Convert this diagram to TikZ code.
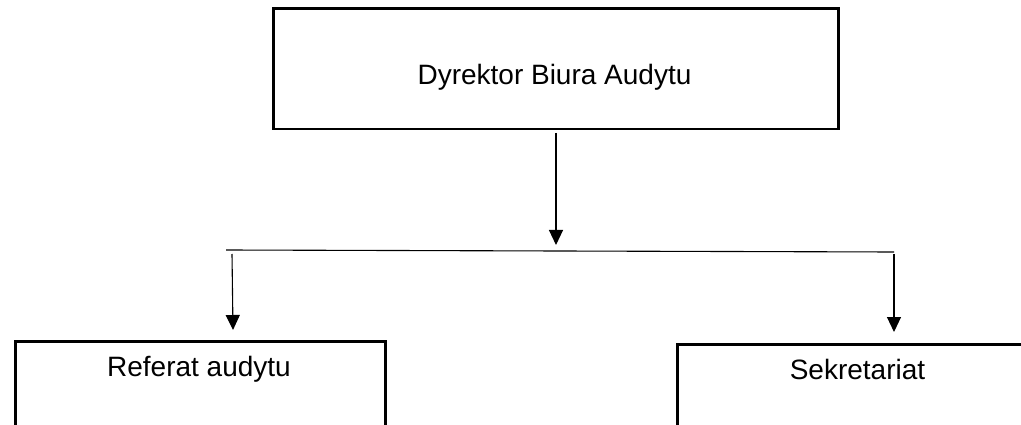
\documentclass[tikz,border=0pt]{standalone}
\usepackage{fontspec}
\setmainfont{Liberation Sans}
\usetikzlibrary{arrows.meta}
\begin{document}
\begin{tikzpicture}[x=1pt,y=-1pt,
  boxshape/.style={draw=black,line width=2.5pt,rectangle,inner sep=0pt,anchor=north west},
  boxtext/.style={anchor=base,inner sep=0pt,font=\fontsize{28}{33}\selectfont},
  conn/.style={draw=black,line width=1.1pt},
  arr/.style={conn,-{Triangle[length=15pt,width=14pt]}}]
\clip (0,0) rectangle (1021,425);
\fill[white] (0,0) rectangle (1021,425);
% boxes
\node[boxshape,minimum width=565pt,minimum height=120.5pt] (top) at (272,7.5) {};
\node[boxshape,minimum width=370pt,minimum height=110pt] (left) at (14,340) {};
\node[boxshape,minimum width=364pt,minimum height=110pt] (right) at (676,343) {};
% texts
\node[boxtext] (toptext) at (554.5,85) {Dyrektor Biura Audytu};
\node[boxtext] (lefttext) at (199,376) {Referat audytu};
\node[boxtext] (righttext) at (857.5,379) {Sekretariat};
% connector coordinates
\coordinate (hl) at (226,250);
\coordinate (hr) at (894,252);
\coordinate (midtip) at (556,245);
\coordinate (mids) at (556,133);
\coordinate (ls) at (232,254);
\coordinate (lt) at (233,330);
\coordinate (rs) at (894,254);
\coordinate (rt) at (894,332);
% connectors
\draw[arr] (mids) -- (midtip);
\draw[conn] (hl) -- (hr);
\draw[arr] (ls) -- (lt);
\draw[arr] (rs) -- (rt);
\end{tikzpicture}
\end{document}
